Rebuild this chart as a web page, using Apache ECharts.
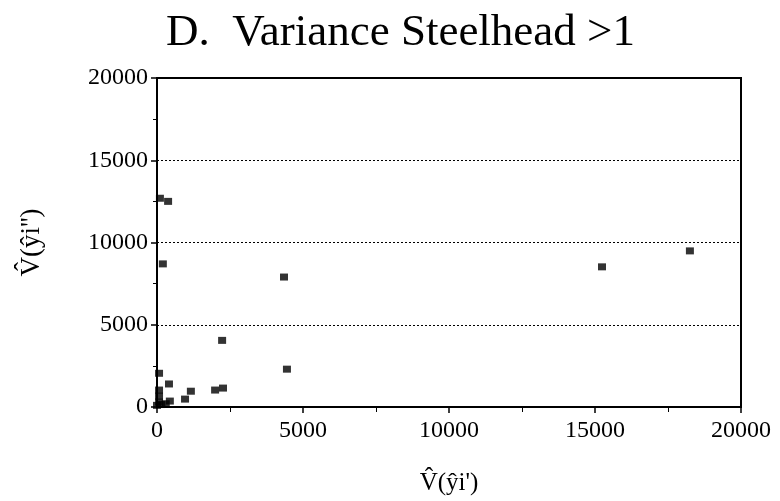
<!DOCTYPE html>
<html>
<head>
<meta charset="utf-8">
<script src="https://cdn.jsdelivr.net/npm/echarts@6/dist/echarts.min.js"></script>
<style>html,body{margin:0;padding:0;background:#fff}#c{width:780px;height:501px}</style>
</head>
<body>
<div id="c"></div>
<script>
const titleText = "D.  Variance Steelhead >1";
const xName = "V\u0302(\u0177i')";
const yName = "V\u0302(\u0177i'')";
const xTicks = [0, 5000, 10000, 15000, 20000];
const yTicks = [0, 5000, 10000, 15000, 20000];
const xValues = [100, 380, 200, 4350, 2230, 4450, 15240, 18250, 70, 410, 70, 70, 440, 70, 960, 1160, 1990, 2260, 0, 150, 300];
const yValues = [12690, 12500, 8700, 7900, 4050, 2300, 8520, 9490, 2050, 1400, 1030, 660, 360, 300, 480, 960, 1030, 1150, 100, 150, 200];

const pts = xValues.map((x, i) => [x, yValues[i]]);
const serif = "'Liberation Serif', 'DejaVu Serif', serif";
const fmt = v => String(v);
const chart = echarts.init(document.getElementById('c'));
chart.setOption({
  animation: false,
  backgroundColor: '#fff',
  title: {
    text: titleText, left: 161, top: 6,
    textStyle: { fontFamily: serif, fontSize: 45, fontWeight: 'normal', color: '#000' }
  },
  grid: { left: 157, right: 39, top: 78, bottom: 92, show: true, borderColor: '#000', borderWidth: 2, backgroundColor: 'transparent' },
  xAxis: {
    type: 'value', min: xTicks[0], max: xTicks[xTicks.length - 1], interval: xTicks[1] - xTicks[0],
    name: xName, nameLocation: 'middle', nameGap: 64,
    nameTextStyle: { fontFamily: serif, fontSize: 25, color: '#000' },
    axisLine: { show: true, onZero: false, lineStyle: { color: '#000', width: 2 } },
    axisTick: { show: true, length: 6, lineStyle: { color: '#000', width: 1.5 } },
    minorTick: { show: true, splitNumber: 2, length: 5, lineStyle: { color: '#000', width: 1 } },
    axisLabel: { fontFamily: serif, fontSize: 24, color: '#000', margin: 12, formatter: fmt },
    splitLine: { show: false }
  },
  yAxis: {
    type: 'value', min: yTicks[0], max: yTicks[yTicks.length - 1], interval: yTicks[1] - yTicks[0],
    name: yName, nameLocation: 'middle', nameGap: 112, nameRotate: 90,
    nameTextStyle: { fontFamily: serif, fontSize: 27, color: '#000' },
    axisLine: { show: true, onZero: false, lineStyle: { color: '#000', width: 2 } },
    axisTick: { show: true, length: 6, lineStyle: { color: '#000', width: 1.5 } },
    minorTick: { show: true, splitNumber: 2, length: 4, lineStyle: { color: '#000', width: 1 } },
    axisLabel: { fontFamily: serif, fontSize: 24, color: '#000', margin: 9, formatter: fmt },
    splitLine: { show: true, lineStyle: { color: '#000', type: [2, 2], width: 1 } }
  },
  series: [{
    type: 'scatter', data: pts, symbol: 'rect', symbolSize: [8, 7],
    itemStyle: { color: '#000' }
  }]
});
</script>
</body>
</html>
